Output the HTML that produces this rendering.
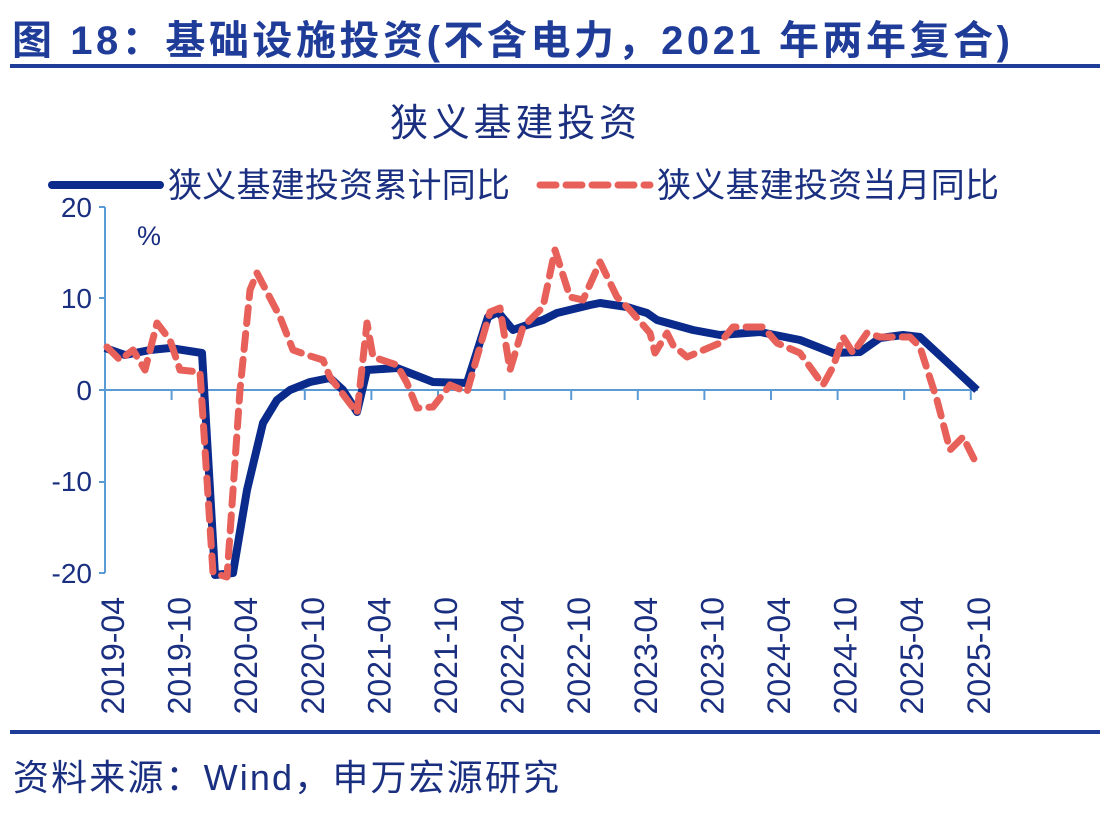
<!DOCTYPE html>
<html><head><meta charset="utf-8"><style>
body{margin:0;background:#fff;}
svg text{font-family:"Liberation Sans","Noto Sans CJK SC",sans-serif;}
</style></head><body>
<svg width="1112" height="826" viewBox="0 0 1112 826" xmlns="http://www.w3.org/2000/svg">
<rect width="1112" height="826" fill="#fff"/>
<text x="12" y="54" font-size="40" font-weight="bold" fill="#1f3c98" textLength="998" lengthAdjust="spacing">图 18：基础设施投资(不含电力，2021 年两年复合)</text>
<rect x="10" y="64" width="1090" height="4" fill="#1f3c98"/>
<text x="390" y="136" font-size="38" fill="#1a2f80" textLength="247" lengthAdjust="spacing">狭义基建投资</text>
<line x1="52" y1="185" x2="160" y2="185" stroke="#0a2a8c" stroke-width="8" stroke-linecap="round"/>
<text x="168" y="197" font-size="34" fill="#1a2f80" textLength="342" lengthAdjust="spacing">狭义基建投资累计同比</text>
<line x1="540" y1="185" x2="650" y2="185" stroke="#e8605a" stroke-width="7" stroke-dasharray="16,10" stroke-linecap="round"/>
<text x="657" y="197" font-size="34" fill="#1a2f80" textLength="342" lengthAdjust="spacing">狭义基建投资当月同比</text>
<g fill="#1a2f80" font-size="28" text-anchor="end">
<text x="92" y="217">20</text><text x="92" y="308">10</text><text x="92" y="400">0</text><text x="92" y="491">-10</text><text x="92" y="583">-20</text>
</g>
<text x="137" y="245" font-size="27" fill="#1a2f80">%</text>
<g stroke="#5b9bd5" stroke-width="2">
<line x1="105" y1="207" x2="105" y2="573"/>
<line x1="99" y1="207" x2="105" y2="207"/><line x1="99" y1="298" x2="105" y2="298"/><line x1="99" y1="390" x2="105" y2="390"/><line x1="99" y1="482" x2="105" y2="482"/><line x1="99" y1="573" x2="105" y2="573"/>
<line x1="105" y1="390" x2="978" y2="390"/>
<path d="M105 390v10M171.6 390v10M238.2 390v10M304.8 390v10M371.4 390v10M438 390v10M504.6 390v10M571.2 390v10M637.8 390v10M704.4 390v10M771 390v10M837.6 390v10M904.2 390v10M970.8 390v10"/>
</g>
<polyline fill="none" stroke="#0a2a8c" stroke-width="8" stroke-linejoin="round" points="105,348 125,355 150,350 170,348 202,353 215,575 233,573 247,490 263,423 277,400 290,390 310,382 330,378 343,390 357,412 367,370 397,368 433,382 467,383 488,317 498,312 513,330 527,325 543,320 557,313 590,305 600,303 627,307 647,313 657,320 693,330 720,335 760,332 800,340 833,353 860,352 880,338 903,335 920,337 947,362 977,390"/>
<polyline fill="none" stroke="#e8605a" stroke-width="7" stroke-dasharray="16,10" stroke-linejoin="round" stroke-linecap="round" points="107,347 120,360 133,350 145,370 157,323 170,340 180,370 200,372 213,573 227,577 240,390 250,290 257,273 280,317 293,350 307,355 323,360 330,377 357,413 367,323 373,357 397,365 407,383 417,408 433,407 450,385 467,392 490,312 500,308 510,370 523,327 543,307 555,250 570,297 583,300 600,262 617,297 630,310 650,333 655,353 667,333 673,345 687,357 720,343 733,327 763,327 777,343 800,353 823,385 833,367 843,337 853,353 867,333 880,337 910,337 920,347 937,400 950,450 963,437 978,467"/>
<g fill="#1a2f80" font-size="32" text-anchor="end">
<text transform="translate(124,597) rotate(-90)">2019-04</text>
<text transform="translate(190.6,597) rotate(-90)">2019-10</text>
<text transform="translate(257.2,597) rotate(-90)">2020-04</text>
<text transform="translate(323.8,597) rotate(-90)">2020-10</text>
<text transform="translate(390.4,597) rotate(-90)">2021-04</text>
<text transform="translate(457,597) rotate(-90)">2021-10</text>
<text transform="translate(523.6,597) rotate(-90)">2022-04</text>
<text transform="translate(590.2,597) rotate(-90)">2022-10</text>
<text transform="translate(656.8,597) rotate(-90)">2023-04</text>
<text transform="translate(723.4,597) rotate(-90)">2023-10</text>
<text transform="translate(790,597) rotate(-90)">2024-04</text>
<text transform="translate(856.6,597) rotate(-90)">2024-10</text>
<text transform="translate(923.2,597) rotate(-90)">2025-04</text>
<text transform="translate(989.8,597) rotate(-90)">2025-10</text>
</g>
<rect x="10" y="730" width="1090" height="4" fill="#1f3c98"/>
<text x="13" y="790" font-size="36" fill="#1a2f80" textLength="546" lengthAdjust="spacing">资料来源：Wind，申万宏源研究</text>
</svg>
</body></html>
